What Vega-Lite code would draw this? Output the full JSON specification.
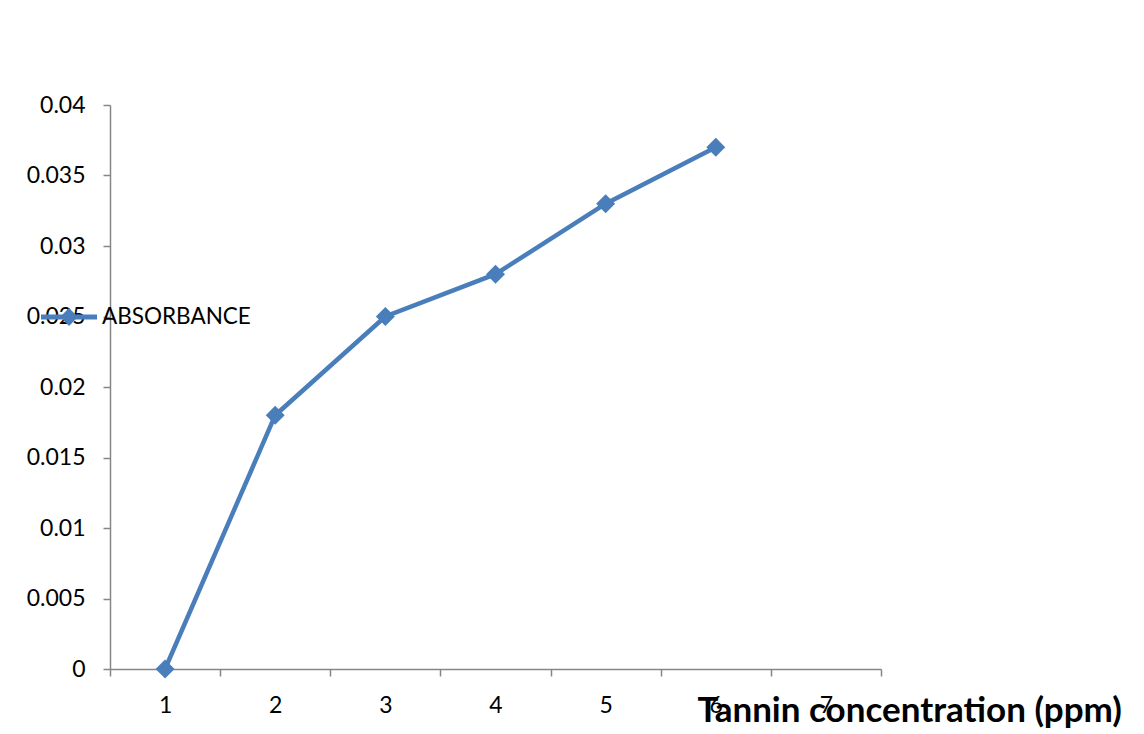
{
  "$schema": "https://vega.github.io/schema/vega-lite/v6.json",
  "width": 771,
  "height": 564,
  "autosize": {"type": "none"},
  "padding": {"left": 110, "top": 105, "right": 263, "bottom": 65},
  "background": "white",
  "config": {
    "view": {"stroke": null},
    "font": "Lato",
    "axis": {
      "domainColor": "#868686",
      "tickColor": "#868686",
      "domainWidth": 1.5,
      "tickWidth": 1.5,
      "labelColor": "#000000",
      "labelFont": "Lato",
      "labelFontSize": 23,
      "grid": false
    }
  },
  "data": {
    "values": [
      {"x": "1", "y": 0, "series": "ABSORBANCE"},
      {"x": "2", "y": 0.018, "series": "ABSORBANCE"},
      {"x": "3", "y": 0.025, "series": "ABSORBANCE"},
      {"x": "4", "y": 0.028, "series": "ABSORBANCE"},
      {"x": "5", "y": 0.033, "series": "ABSORBANCE"},
      {"x": "6", "y": 0.037, "series": "ABSORBANCE"}
    ]
  },
  "encoding": {
    "x": {
      "field": "x",
      "type": "ordinal",
      "scale": {"domain": ["1", "2", "3", "4", "5", "6", "7"], "paddingInner": 0, "paddingOuter": 0},
      "axis": {
        "tickBand": "extent",
        "tickSize": 7,
        "labelPadding": 18,
        "labelAngle": 0,
        "title": "Tannin concentration (ppm)",
        "titleFont": "Lato",
        "titleFontSize": 35,
        "titleFontWeight": "bold",
        "titleColor": "#000000",
        "titleAnchor": "start",
        "titleAlign": "left",
        "titleBaseline": "alphabetic",
        "titleX": 587,
        "titleY": 52
      }
    },
    "y": {
      "field": "y",
      "type": "quantitative",
      "scale": {"domain": [0, 0.04], "nice": false, "zero": true},
      "axis": {
        "values": [0, 0.005, 0.01, 0.015, 0.02, 0.025, 0.03, 0.035, 0.04],
        "format": "~g",
        "tickSize": 7,
        "labelPadding": 18,
        "title": null
      }
    },
    "color": {
      "field": "series",
      "type": "nominal",
      "scale": {"range": ["#4a7ebb"]},
      "legend": {
        "orient": "none",
        "legendX": -69,
        "legendY": 184,
        "title": null,
        "padding": 0,
        "symbolType": "M-1,-0.09H1V0.09H-1Z M-0.32,0L0,-0.32L0.32,0L0,0.32Z",
        "symbolSize": 3136,
        "symbolFillColor": "#4a7ebb",
        "symbolStrokeWidth": 0,
        "symbolOpacity": 1,
        "labelOffset": 5,
        "labelFont": "Lato",
        "labelFontSize": 22.5,
        "labelColor": "#000000",
        "encode": {
          "symbols": {
            "update": {
              "fill": {"value": "#4a7ebb"},
              "stroke": {"value": "#4a7ebb"},
              "strokeWidth": {"value": 0},
              "opacity": {"value": 1}
            }
          }
        }
      }
    }
  },
  "layer": [
    {"mark": {"type": "line", "strokeWidth": 4.5}},
    {"mark": {"type": "point", "shape": "diamond", "filled": true, "size": 360, "opacity": 1}}
  ]
}
